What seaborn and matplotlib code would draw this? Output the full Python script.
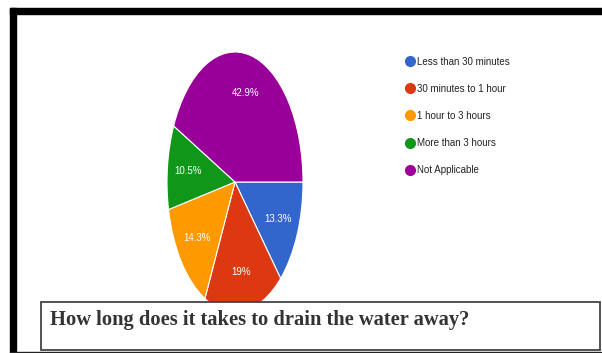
import matplotlib
matplotlib.use("Agg")
import matplotlib.pyplot as plt
import seaborn as sns
from matplotlib.lines import Line2D
from matplotlib.patches import Rectangle

# Data
categories = [
    "Less than 30 minutes",
    "30 minutes to 1 hour",
    "1 hour to 3 hours",
    "More than 3 hours",
    "Not Applicable",
]
shares = [13.3, 19, 14.3, 10.5, 42.9]
share_labels = ["13.3%", "19%", "14.3%", "10.5%", "42.9%"]
colors = ["#3366cc", "#dc3912", "#ff9900", "#109618", "#990099"]
caption = "How long does it takes to drain the water away?"

sns.set_theme(style="white")
plt.rcParams["font.family"] = ["Liberation Sans", "DejaVu Sans"]

W, H = 602, 353
fig = plt.figure(figsize=(W / 100, H / 100), dpi=100)
fig.patch.set_facecolor("white")


def px(x0, y0, x1, y1):
    # pixel box (top-left origin) -> figure fraction rect
    return [x0 / W, 1 - y1 / H, (x1 - x0) / W, (y1 - y0) / H]


# Pie (stretched vertically like the screenshot)
ax = fig.add_axes(px(167, 52, 303, 312))
wedges, texts = ax.pie(
    shares,
    colors=colors,
    labels=share_labels,
    labeldistance=0.7,
    startangle=0,
    counterclock=False,
    wedgeprops=dict(edgecolor="white", linewidth=0.8),
    textprops=dict(color="white", fontsize=7),
)
for t in texts:
    t.set_horizontalalignment("center")
    t.set_verticalalignment("center")
ax.set_aspect("auto")
ax.set_xlim(-1, 1)
ax.set_ylim(-1, 1)
ax.axis("off")

# Legend
handles = [
    Line2D([], [], marker="o", linestyle="none", markersize=7,
           markerfacecolor=c, markeredgecolor=c)
    for c in colors
]
fig.legend(
    handles, categories,
    loc="upper left",
    bbox_to_anchor=(399 / W, 1 - 52 / H),
    frameon=False,
    fontsize=7,
    labelspacing=1.75,
    handletextpad=0.15,
    handlelength=1.2,
    borderpad=0,
    labelcolor="#222222",
)

# Outer frame (top and left thick bars)
fig.add_artist(Rectangle((10 / W, 1 - 14 / H), 1, 6 / H,
                         transform=fig.transFigure, color="black", zorder=5))
fig.add_artist(Rectangle((10 / W, 0), 6 / W, 1 - 8 / H,
                         transform=fig.transFigure, color="black", zorder=5))
fig.add_artist(Line2D([10 / W, 1], [1.2 / H, 1.2 / H],
                      transform=fig.transFigure, color="#222222", lw=1, zorder=5))

# Caption box
fig.add_artist(Rectangle((41 / W, 1 - 350 / H), (600 - 41) / W, 48 / H,
                         transform=fig.transFigure, facecolor="white",
                         edgecolor="#444444", linewidth=1.3, zorder=6))
fig.text(50 / W, 1 - 320 / H, caption, family="Liberation Serif",
         fontweight="bold", fontsize=14.8, color="#333333",
         va="center", ha="left", zorder=7)

fig.savefig("out.png", dpi=100)
